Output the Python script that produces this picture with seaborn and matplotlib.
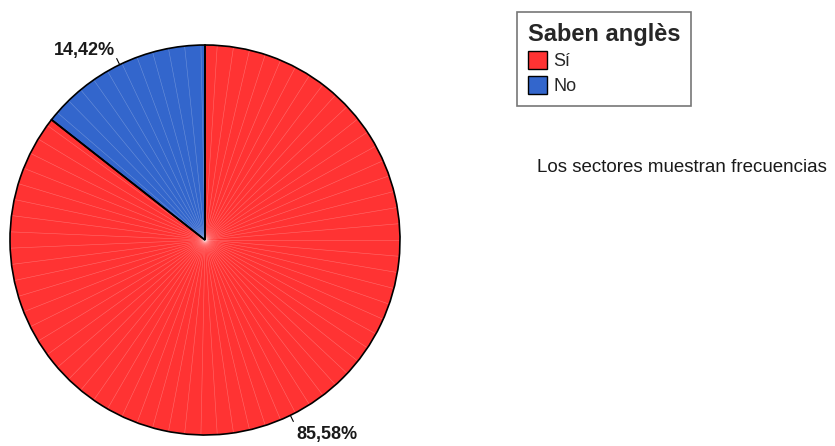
import numpy as np
import matplotlib
matplotlib.use("Agg")
import matplotlib.pyplot as plt
import seaborn as sns

# data
categories = ["Sí", "No"]
percentages = [85.58, 14.42]
legend_title = "Saben anglès"
footnote = "Los sectores muestran frecuencias"

W, H = 835, 446
sns.set_theme(style="white")
plt.rcParams["font.family"] = ["Liberation Sans", "DejaVu Sans"]
colors = ["#ff3333", "#3366cc"]

fig = plt.figure(figsize=(W / 100, H / 100), dpi=100)
ax = fig.add_axes([0, 0, 1, 1])

cx, cy, r = 205, H - 240, 195
wedges, _ = ax.pie(percentages, colors=colors, startangle=90, counterclock=False,
                   center=(cx, cy), radius=r, frame=True,
                   wedgeprops=dict(edgecolor="none", linewidth=0, zorder=1))

# faint radial streaks like the original export
for a in np.arange(0, 360, 4.8):
    t = np.deg2rad(a)
    ax.plot([cx, cx + r * np.cos(t)], [cy, cy + r * np.sin(t)],
            color="white", lw=0.4, alpha=0.28, zorder=1.5)

# wedge outlines on top
ax.pie(percentages, colors=["none"] * len(percentages), startangle=90, counterclock=False,
       center=(cx, cy), radius=r, frame=True,
       wedgeprops=dict(edgecolor="black", linewidth=1.2, fill=False, zorder=2))

ax.set_xlim(0, W)
ax.set_ylim(0, H)
ax.set_aspect("equal")
ax.axis("off")

# percentage labels with short leader lines
for w, p in zip(wedges, percentages):
    mid = np.deg2rad((w.theta1 + w.theta2) / 2)
    x0, y0 = cx + r * np.cos(mid), cy + r * np.sin(mid)
    x1, y1 = cx + 1.035 * r * np.cos(mid), cy + 1.035 * r * np.sin(mid)
    ax.plot([x0, x1], [y0, y1], color="black", lw=0.8, zorder=3)
    upper = np.sin(mid) > 0
    right = np.cos(mid) > 0
    ax.text(x1 + (3 if right else -2), y1 + (4 if upper else -5), f"{p:.2f}%".replace(".", ","),
            ha="left" if right else "right",
            va="baseline" if upper else "top",
            fontsize=13, fontweight="bold", color="#1a1a1a")

leg = ax.legend(wedges, categories, title=legend_title, loc="upper left",
                bbox_to_anchor=(517 / W, 1 - 12 / H), bbox_transform=fig.transFigure,
                frameon=True, fancybox=False, fontsize=13, alignment="left",
                title_fontproperties=dict(size=17, weight="bold"),
                handlelength=1.05, handleheight=1.15, handletextpad=0.35,
                labelspacing=0.3, borderpad=0.6, borderaxespad=0)
leg.get_frame().set_edgecolor("#555555")
leg.get_frame().set_linewidth(1.2)
for h in leg.legend_handles:
    h.set_edgecolor("black")
    h.set_linewidth(1.0)

ax.text(537, H - 168, footnote, ha="left", va="center", fontsize=13.5, color="#1a1a1a")

fig.savefig("out.png", dpi=100)
